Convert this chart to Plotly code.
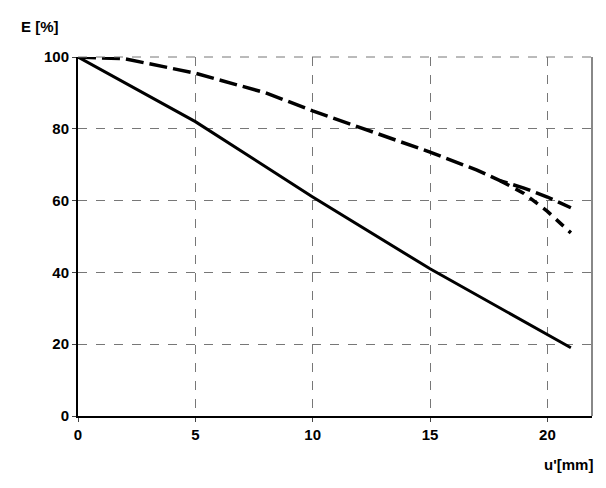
import plotly.graph_objects as go

x_solid = [0, 5, 10, 15, 21]
y_solid = [100, 82, 61, 41, 19]

x_dash1 = [0, 2, 5, 8, 10, 12, 15, 17, 18, 19, 20, 21]
y_dash1 = [100, 99.5, 95.5, 90, 85, 80.5, 73.5, 68.5, 65.5, 63.5, 61, 58]

x_dash2 = [18, 19, 20, 21]
y_dash2 = [65.5, 62, 57, 51]

x_ticks = [0, 5, 10, 15, 20]
y_ticks = [0, 20, 40, 60, 80, 100]

fig = go.Figure()
fig.add_trace(go.Scatter(x=x_solid, y=y_solid, mode="lines",
                         line=dict(color="black", width=3)))
fig.add_trace(go.Scatter(x=x_dash1, y=y_dash1, mode="lines",
                         line=dict(color="black", width=3.5, dash="18px,6px")))
fig.add_trace(go.Scatter(x=x_dash2, y=y_dash2, mode="lines",
                         line=dict(color="black", width=3.5, dash="10px,7px")))

fig.update_layout(
    width=606, height=488, showlegend=False,
    plot_bgcolor="white", paper_bgcolor="white",
    margin=dict(l=70, r=22, t=49, b=80, autoexpand=False),
    font=dict(family="Liberation Sans, Arial", size=15, color="black"),
    annotations=[
        dict(text="<b>E [%]</b>", x=-0.115, y=1.085, xref="paper", yref="paper",
             xanchor="left", yanchor="middle", showarrow=False),
        dict(text="<b>u'[mm]</b>", x=1.005, y=-0.135, xref="paper", yref="paper",
             xanchor="right", yanchor="middle", showarrow=False),
    ],
)
fig.update_xaxes(range=[0, 21.9], tickvals=x_ticks,
                 ticktext=["<b>%d</b>" % v for v in x_ticks],
                 showgrid=True, gridcolor="#777", griddash="dash", gridwidth=1,
                 showline=True, linecolor="black", linewidth=2,
                 ticks="outside", ticklen=4, zeroline=False)
fig.update_yaxes(range=[0, 100], tickvals=y_ticks,
                 ticktext=["<b>%d</b>" % v for v in y_ticks],
                 showgrid=True, gridcolor="#777", griddash="dash", gridwidth=1,
                 showline=True, linecolor="black", linewidth=2,
                 ticks="outside", ticklen=4, zeroline=False)
fig.add_shape(type="line", xref="paper", yref="paper", x0=1, x1=1, y0=0, y1=1,
              line=dict(color="#888", width=2))
fig.add_shape(type="line", xref="paper", yref="paper", x0=0, x1=1, y0=1, y1=1,
              line=dict(color="#777", width=1, dash="dash"))
fig.write_html("out.html")
